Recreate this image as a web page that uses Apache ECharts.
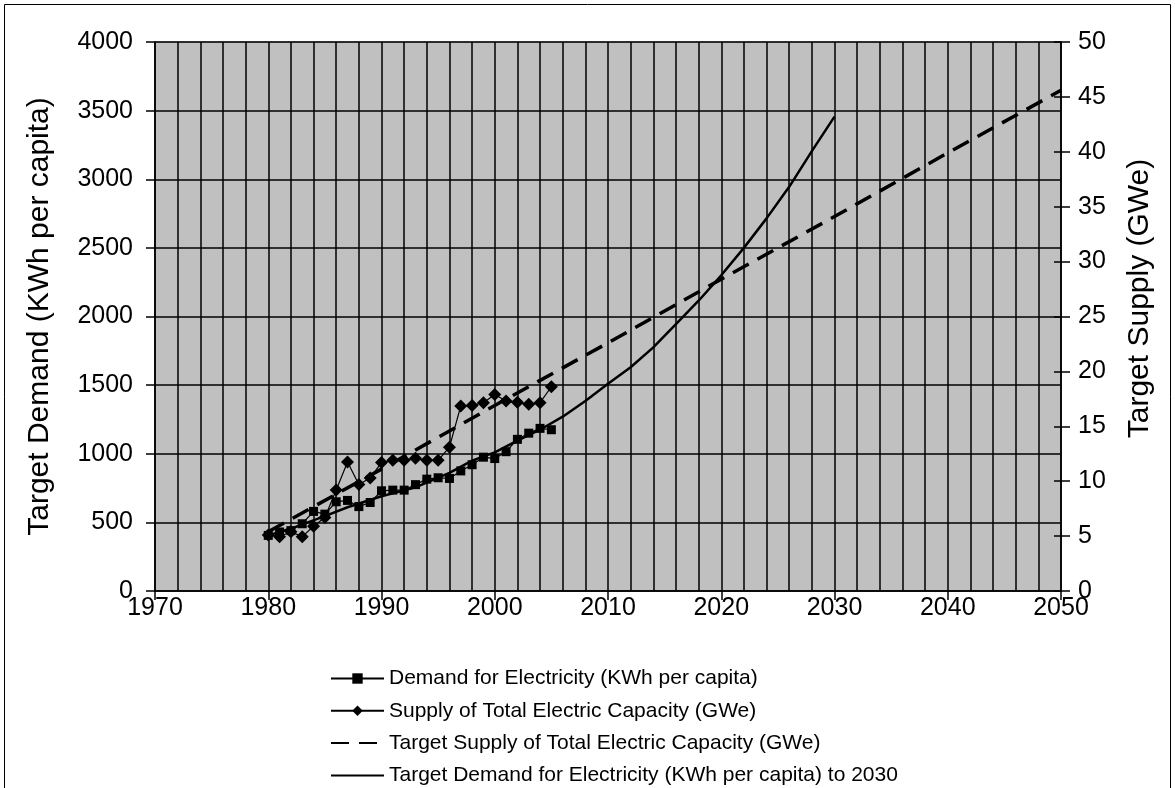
<!DOCTYPE html>
<html>
<head>
<meta charset="utf-8">
<script src="https://cdn.jsdelivr.net/npm/echarts@6/dist/echarts.min.js"></script>
<style>
  html, body { margin: 0; padding: 0; background: #fff; }
  #chart { width: 1175px; height: 788px; }
</style>
</head>
<body>
<div id="chart"></div>
<script>
// actual data, 1980-2005
const years = [1980, 1981, 1982, 1983, 1984, 1985, 1986, 1987, 1988, 1989, 1990, 1991, 1992,
  1993, 1994, 1995, 1996, 1997, 1998, 1999, 2000, 2001, 2002, 2003, 2004, 2005];
const demand = [405, 430, 440, 490, 580, 560, 650, 660, 615, 645, 730, 735, 735,
  775, 815, 825, 820, 875, 920, 975, 965, 1015, 1105, 1150, 1185, 1175];
const supply = [5.1, 4.95, 5.4, 4.95, 5.9, 6.7, 9.2, 11.75, 9.7, 10.3, 11.7, 11.9, 11.9,
  12.1, 11.9, 11.9, 13.1, 16.85, 16.9, 17.15, 17.9, 17.3, 17.2, 17.0, 17.15, 18.6];

// targets
const targetSupplyYears = [1980, 1990, 2000, 2010, 2020, 2030, 2040, 2050];
const targetSupply = [5.4, 11.1, 16.9, 22.6, 28.4, 34.1, 39.9, 45.6];
const targetDemandYears = [1980, 1982, 1985, 1987, 1990, 1993, 1996, 1998, 2000, 2002, 2004,
  2006, 2008, 2010, 2012, 2014, 2016, 2018, 2020, 2022, 2024, 2026, 2028, 2030];
const targetDemand = [405, 455, 545, 610, 690, 755, 860, 950, 1010, 1095, 1175,
  1270, 1385, 1510, 1630, 1775, 1945, 2115, 2300, 2500, 2715, 2945, 3205, 3456];

const seriesNames = [
  "Demand for Electricity (KWh per capita)",
  "Supply of Total Electric Capacity (GWe)",
  "Target Supply of Total Electric Capacity (GWe)",
  "Target Demand for Electricity (KWh per capita) to 2030",
];

const zip = (xs, ys) => xs.map((x, i) => [x, ys[i]]);
const font = 'Arial, "Liberation Sans", sans-serif';

const chart = echarts.init(document.getElementById("chart"));
chart.setOption({
  animation: false,
  backgroundColor: "#fff",
  textStyle: { fontFamily: font, color: "#000" },
  graphic: [
    {
      type: "rect",
      shape: { x: 4.5, y: 4.5, width: 1166, height: 800 },
      style: { fill: "none", stroke: "#000", lineWidth: 1 },
      silent: true,
    },
  ],
  grid: {
    left: 155,
    right: 114,
    top: 42,
    bottom: 197,
    show: true,
    backgroundColor: "#c0c0c0",
    borderColor: "#808080",
    borderWidth: 1,
  },
  legend: {
    orient: "vertical",
    left: 330,
    top: 668,
    padding: 0,
    itemWidth: 53,
    itemHeight: 13,
    itemGap: 11.3,
    data: seriesNames,
    textStyle: { fontSize: 21, fontFamily: font, color: "#000" },
  },
  xAxis: {
    type: "value",
    min: 1970,
    max: 2050,
    interval: 10,
    axisLine: { show: true, lineStyle: { color: "#000", width: 1.5 } },
    axisTick: { show: true, length: 9, lineStyle: { color: "#000", width: 1.5 } },
    axisLabel: { fontSize: 25, color: "#000", margin: 5, formatter: (v) => String(v) },
    splitLine: { show: true, lineStyle: { color: "#000", width: 1.5 } },
    minorTick: { show: false, splitNumber: 5 },
    minorSplitLine: { show: true, lineStyle: { color: "#000", width: 1.5 } },
  },
  yAxis: [
    {
      type: "value",
      min: 0,
      max: 4000,
      interval: 500,
      name: "Target Demand (KWh per capita)",
      nameLocation: "middle",
      nameGap: 100,
      nameTextStyle: { fontSize: 30, color: "#000" },
      axisLine: { show: true, lineStyle: { color: "#000", width: 1.5 } },
      axisTick: { show: true, length: 9, lineStyle: { color: "#000", width: 1.5 } },
      axisLabel: { fontSize: 25, color: "#000", margin: 22, formatter: (v) => String(v) },
      splitLine: { show: true, lineStyle: { color: "#000", width: 1.5 } },
    },
    {
      type: "value",
      min: 0,
      max: 50,
      interval: 5,
      position: "right",
      name: "Target Supply (GWe)",
      nameLocation: "middle",
      nameGap: 64,
      nameTextStyle: { fontSize: 30, color: "#000", padding: [0, 0, 0, 36] },
      axisLine: { show: true, lineStyle: { color: "#000", width: 1.5 } },
      axisTick: { show: true, length: 9, lineStyle: { color: "#000", width: 1.5 } },
      axisLabel: { fontSize: 25, color: "#000", margin: 17 },
      splitLine: { show: false },
    },
    {
      // same scale again, only to draw the inner half of the crossing ticks
      type: "value",
      min: 0,
      max: 50,
      interval: 5,
      position: "right",
      axisLine: { show: false },
      axisTick: { show: true, inside: true, length: 7, lineStyle: { color: "#000", width: 1.5 } },
      axisLabel: { show: false },
      splitLine: { show: false },
    },
  ],
  series: [
    {
      name: seriesNames[0],
      type: "line",
      yAxisIndex: 0,
      data: zip(years, demand),
      symbol: "rect",
      symbolSize: 9,
      itemStyle: { color: "#000" },
      lineStyle: { color: "#000", width: 1.2 },
    },
    {
      name: seriesNames[1],
      type: "line",
      yAxisIndex: 1,
      data: zip(years, supply),
      symbol: "diamond",
      symbolSize: 13,
      itemStyle: { color: "#000" },
      lineStyle: { color: "#000", width: 1.2 },
    },
    {
      name: seriesNames[2],
      type: "line",
      yAxisIndex: 1,
      data: zip(targetSupplyYears, targetSupply),
      showSymbol: false,
      symbol: "none",
      // transparent item colour keeps the legend icon a plain dashed line
      itemStyle: { color: "rgba(0,0,0,0)" },
      lineStyle: { color: "#000", width: 3.5, type: [18, 10] },
    },
    {
      name: seriesNames[3],
      type: "line",
      yAxisIndex: 0,
      data: zip(targetDemandYears, targetDemand),
      showSymbol: false,
      symbol: "none",
      itemStyle: { color: "rgba(0,0,0,0)" },
      lineStyle: { color: "#000", width: 2.5 },
    },
  ],
});
</script>
</body>
</html>
